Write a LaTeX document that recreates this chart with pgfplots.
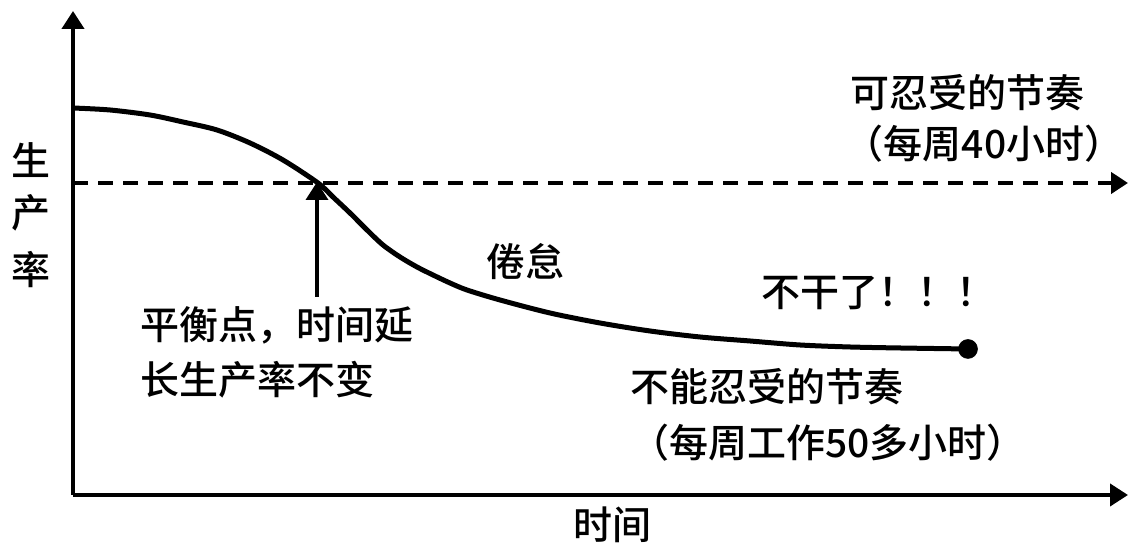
\documentclass[border=0pt]{standalone}
\usepackage{pgfplots}
\pgfplotsset{compat=1.18}
\usepackage{fontspec}
\setmainfont{Noto Sans CJK SC}[UprightFont={* Medium}]
\usetikzlibrary{arrows.meta}
\newcommand\F{\fontsize{19.5pt}{23pt}\selectfont}
\begin{document}
\begin{tikzpicture}[font=\F]
\begin{axis}[
  scale only axis, width=568pt, height=280pt,
  xmin=0, xmax=1136, ymin=0, ymax=560,
  hide axis, clip=false,
]
\path (axis cs:0,0) rectangle (axis cs:1136,560);
% axes
\addplot[black, line width=2pt, -{Triangle[length=9pt,width=11pt]}] coordinates {(73,65) (73,549)};
\addplot[black, line width=2pt, -{Triangle[length=9pt,width=11pt]}] coordinates {(73,65) (1128,65)};
% dashed tolerable rhythm
\addplot[black, line width=2.2pt, dash pattern=on 7.3pt off 5.2pt, -{Triangle[length=8.5pt,width=10.5pt]}] coordinates {(73,377) (1128,377)};
% productivity curve
\addplot[black, line width=2.5pt, smooth, tension=0.5] coordinates {
(73,452) (110,450) (150,445) (183,438) (217,430) (250,417) (283,400) (318,377)
(333,363) (350,347) (367,330) (383,315) (400,303) (417,293) (433,285) (450,277)
(467,270) (500,260) (550,247) (600,237) (650,229) (700,223) (750,219) (800,215)
(850,213) (900,212) (968,211)};
\addplot[black, only marks, mark=*, mark size=4.7pt] coordinates {(968,211)};
% balance arrow
\addplot[black, line width=1.8pt, -{Triangle[length=9pt,width=11pt]}] coordinates {(317,263) (317,378)};
% labels
\node[font=\F, inner sep=0pt] at (axis cs:31,400) {生};
\node[font=\F, inner sep=0pt] at (axis cs:31,347) {产};
\node[font=\F, inner sep=0pt] at (axis cs:31,290) {率};
\node[font=\F, inner sep=0pt] at (axis cs:612,35) {时间};
\node[font=\F, inner sep=0pt] at (axis cs:967,467) {可忍受的节奏};
\node[font=\F, inner sep=0pt] at (axis cs:984,416) {（每周40小时）};
\node[font=\F, inner sep=0pt] at (axis cs:525,298) {倦怠};
\node[font=\F, inner sep=0pt] at (axis cs:878,267) {不干了！！！};
\node[font=\F, inner sep=0pt, anchor=west] at (axis cs:140,235) {平衡点，时间延};
\node[font=\F, inner sep=0pt, anchor=west] at (axis cs:140,180) {长生产率不变};
\node[font=\F, inner sep=0pt] at (axis cs:767,173) {不能忍受的节奏};
\node[font=\F, inner sep=0pt] at (axis cs:828,117) {（每周工作50多小时）};
\end{axis}
\end{tikzpicture}
\end{document}
